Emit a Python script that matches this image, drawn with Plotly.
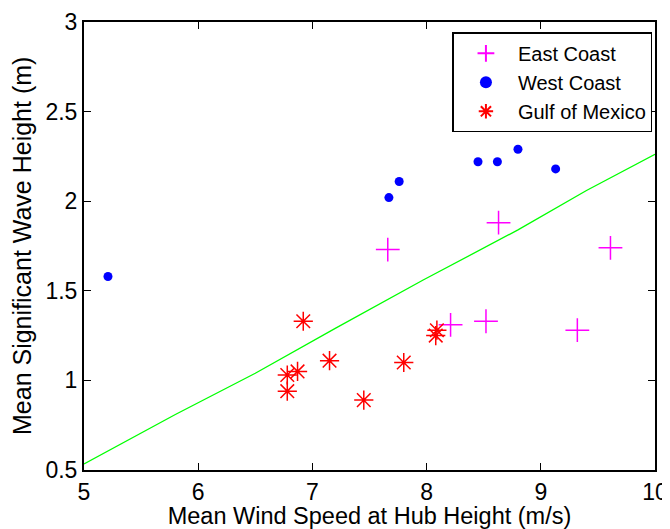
import plotly.graph_objects as go

east_x = [7.66, 8.63, 9.61, 8.21, 8.52, 9.32]
east_y = [1.73, 1.88, 1.74, 1.31, 1.33, 1.28]

west_x = [5.21, 7.67, 7.76, 8.45, 8.62, 8.80, 9.13]
west_y = [1.58, 2.02, 2.11, 2.22, 2.22, 2.29, 2.18]

gulf_x = [6.92, 6.78, 6.87, 6.78, 7.15, 7.45, 7.80, 8.09, 8.08]
gulf_y = [1.33, 1.03, 1.05, 0.94, 1.11, 0.89, 1.10, 1.28, 1.25]

fit_x = [5.0, 5.4, 5.8, 6.5, 7.2, 7.97, 8.8, 9.4, 10.0]
fit_y = [0.534, 0.67, 0.81, 1.04, 1.29, 1.56, 1.84, 2.06, 2.262]

fig = go.Figure()
fig.add_trace(go.Scatter(x=fit_x, y=fit_y, mode="lines", line=dict(color="#00FF00", width=1.3),
                         showlegend=False, hoverinfo="skip"))
fig.add_trace(go.Scatter(x=east_x, y=east_y, mode="markers", name="East Coast",
                         marker=dict(symbol="cross-thin-open", size=17, color="#FF00FF",
                                     line=dict(color="#FF00FF", width=1.5))))
fig.add_trace(go.Scatter(x=west_x, y=west_y, mode="markers", name="West Coast",
                         marker=dict(symbol="circle", size=9, color="#0000FF")))
fig.add_trace(go.Scatter(x=gulf_x, y=gulf_y, mode="markers", name="Gulf of Mexico",
                         marker=dict(symbol="asterisk-open", size=16, color="#FF0000",
                                     line=dict(color="#FF0000", width=1.5))))

font = "Liberation Sans, Arial, Helvetica, sans-serif"
axis_common = dict(showgrid=False, zeroline=False, showline=True, linecolor="black", linewidth=2,
                   mirror="ticks", ticks="inside", ticklen=7, tickwidth=1.2, tickcolor="black",
                   automargin=False,
                   tickfont=dict(family=font, size=23, color="black"))
fig.update_xaxes(range=[5, 10], tickvals=[5, 6, 7, 8, 9, 10], ticktext=["5", "6", "7", "8", "9", "10"],
                 title=dict(text="Mean Wind Speed at Hub Height (m/s)", font=dict(family=font, size=23.5, color="black"),
                            standoff=0),
                 **axis_common)
fig.update_yaxes(range=[0.5, 3], tickvals=[0.5, 1, 1.5, 2, 2.5, 3], ticktext=["0.5", "1", "1.5", "2", "2.5", "3"],
                 **axis_common)
fig.add_annotation(text="Mean Significant Wave Height (m)", xref="paper", yref="paper", x=0, y=0.5,
                   xanchor="center", yanchor="middle", xshift=-62, textangle=-90, showarrow=False,
                   font=dict(family=font, size=25, color="black"))
# the page body adds an 8px offset; size and margins compensate so the plot area lands as in the reference
fig.update_layout(
    width=662, height=521,
    margin=dict(l=75.5, r=15, t=13.5, b=58.5),
    plot_bgcolor="white", paper_bgcolor="white",
    legend=dict(x=0.9955, y=0.977, xanchor="right", yanchor="top", bgcolor="white",
                bordercolor="black", borderwidth=1.5, itemwidth=54,
                font=dict(family=font, size=20, color="black"), tracegroupgap=0, itemsizing="constant"),
)
fig.write_html("out.html")
